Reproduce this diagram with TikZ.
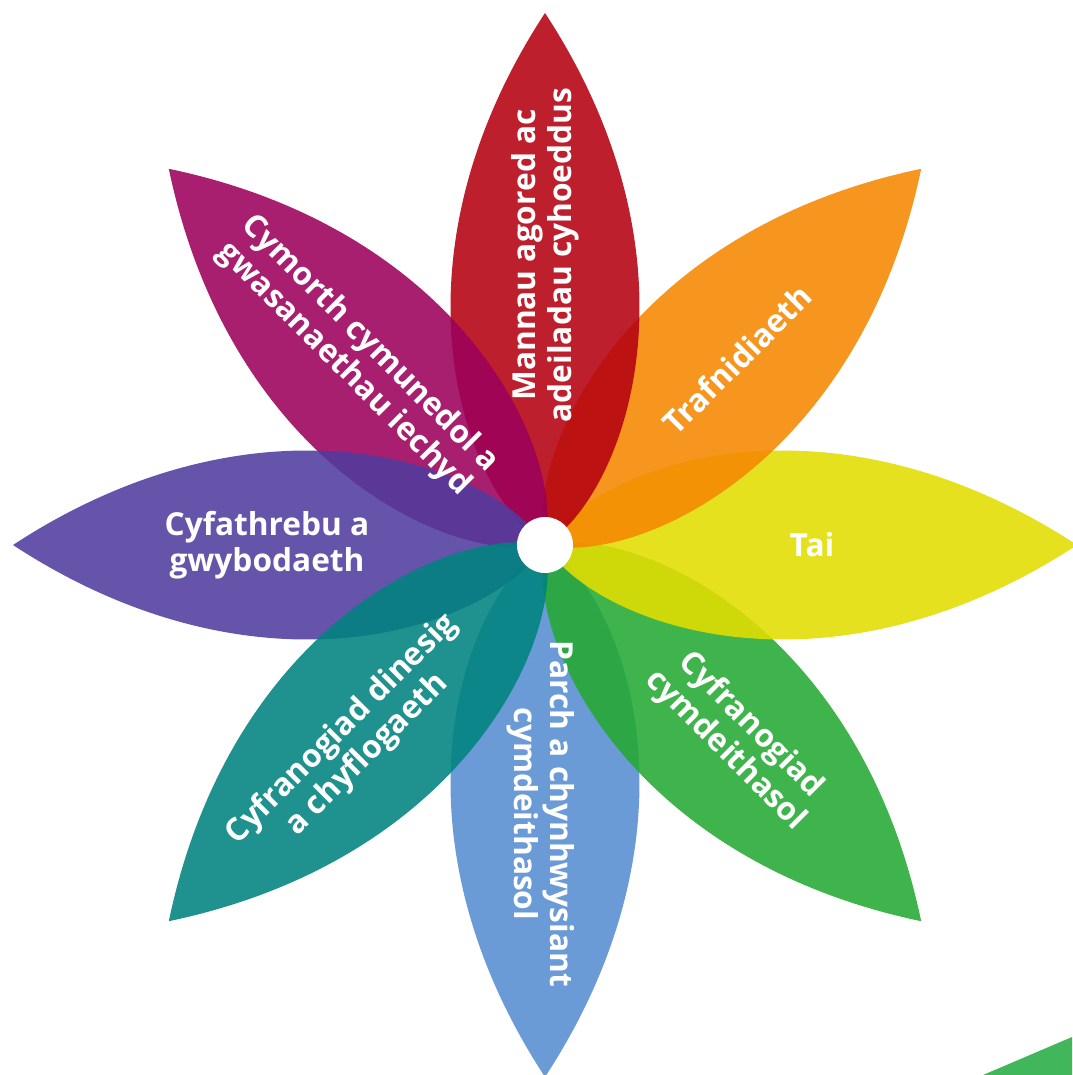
\documentclass[tikz,border=0pt]{standalone}
\usepackage{fontspec}
\setmainfont{Open Sans}

\definecolor{petalred}{RGB}{181,0,16}
\definecolor{petalorange}{RGB}{245,135,0}
\definecolor{petalyellow}{RGB}{227,221,0}
\definecolor{petalgreen}{RGB}{37,170,51}
\definecolor{petalblue}{RGB}{86,141,208}
\definecolor{petalteal}{RGB}{0,131,127}
\definecolor{petalpurple}{RGB}{80,60,158}
\definecolor{petalmagenta}{RGB}{155,0,90}
\definecolor{cornergreen}{RGB}{65,182,90}

\tikzset{
  petal/.style={fill opacity=0.88, draw=none},
  petaltext/.style={text=white, font=\bfseries\fontsize{22.5}{25.5}\selectfont,
                    align=center, inner sep=0pt},
  hub/.style={circle, fill=white, minimum size=1.4cm, inner sep=0pt}
}

\begin{document}
\begin{tikzpicture}[x=0.025cm,y=0.025cm]

\useasboundingbox (-545,-530) rectangle (527,545);

%%% corner piece
\fill[cornergreen] (438,-530) -- (527,-492) -- (527,-530) -- cycle;

%%% eight petals round the hub
\foreach \ang/\col in {-90/petalblue, -45/petalgreen, 0/petalyellow, 45/petalorange,
                       90/petalred, 135/petalmagenta, 180/petalpurple, 225/petalteal}
  \fill[petal, fill=\col, rotate=\ang]
     (0,0) .. controls (50,80) and (280,165) .. (532,0)
           .. controls (280,-165) and (50,-80) .. (0,0);

\node[hub] (hub) at (0,0) {};

%%% labels
\node[petaltext, rotate=90]  (mannau)    at (90:290)  {Mannau agored ac\\adeiladau cyhoeddus};
\node[petaltext, rotate=45]  (trafnid)   at (44:267)  {Trafnidiaeth};
\node[petaltext]             (tai)       at (0:267)   {Tai};
\node[petaltext, rotate=-45] (cyfrcymd)  at (-45:273) {Cyfranogiad\\cymdeithasol};
\node[petaltext, rotate=-90] (parch)     at (-91:269) {Parch a chynhwysiant\\cymdeithasol};
\node[petaltext, rotate=45]  (cyfrdin)   at (226:274) {Cyfranogiad dinesig\\a chyflogaeth};
\node[petaltext]             (cyfath)    at (180:278) {Cyfathrebu a\\gwybodaeth};
\node[petaltext, rotate=-45] (cymorth)   at (135:266) {Cymorth cymunedol a\\gwasanaethau iechyd};

\end{tikzpicture}
\end{document}
